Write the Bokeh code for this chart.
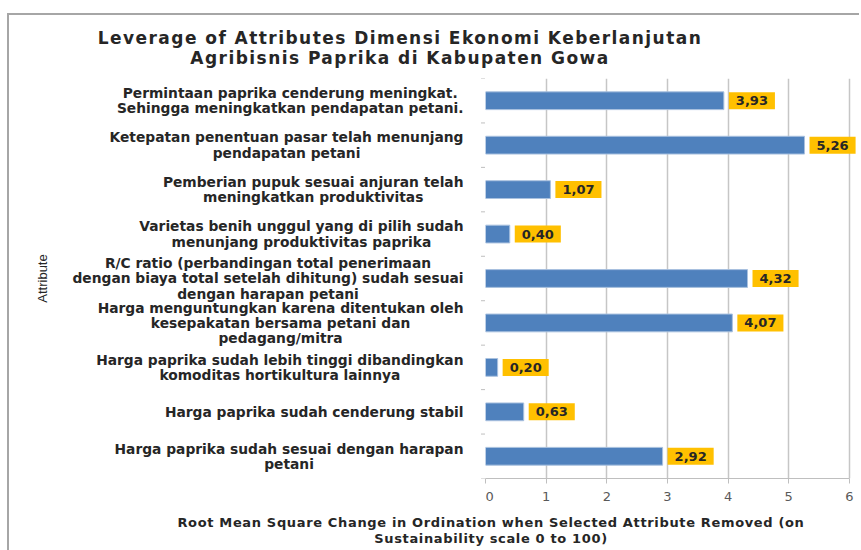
from bokeh.plotting import figure
from bokeh.models import FactorRange, Range1d, ColumnDataSource, Div, FixedTicker
from bokeh.layouts import column, row
from bokeh.embed import file_html
from bokeh.resources import INLINE
from bokeh.core.properties import value
import math

title_lines = ["Leverage of Attributes Dimensi Ekonomi Keberlanjutan",
               "Agribisnis Paprika di Kabupaten Gowa"]

attributes = [
    "Permintaan paprika cenderung meningkat.\nSehingga meningkatkan pendapatan petani.",
    "Ketepatan penentuan pasar telah menunjang\npendapatan petani",
    "Pemberian pupuk sesuai anjuran telah\nmeningkatkan produktivitas",
    "Varietas benih unggul yang di pilih sudah\nmenunjang produktivitas paprika",
    "R/C ratio (perbandingan total penerimaan\ndengan biaya total setelah dihitung) sudah sesuai\ndengan harapan petani",
    "Harga menguntungkan karena ditentukan oleh\nkesepakatan bersama petani dan\npedagang/mitra",
    "Harga paprika sudah lebih tinggi dibandingkan\nkomoditas hortikultura lainnya",
    "Harga paprika sudah cenderung stabil",
    "Harga paprika sudah sesuai dengan harapan\npetani",
]
leverage = [3.93, 5.26, 1.07, 0.40, 4.32, 4.07, 0.20, 0.63, 2.92]
x_ticks = [0, 1, 2, 3, 4, 5, 6]
x_title_lines = ["Root Mean Square Change in Ordination when Selected Attribute Removed (on",
                 "Sustainability scale 0 to 100)"]
y_title = "Attribute"

value_labels = [f"{v:.2f}".replace(".", ",") for v in leverage]
src = ColumnDataSource(dict(attr=attributes, lev=leverage, lab=value_labels))

FONT = "DejaVu Sans"
DARK = "#262626"
GRAY = "#bfbfbf"

yr = FactorRange(factors=list(reversed(attributes)), range_padding=0)

# ---- main bar chart ----
p = figure(width=374, height=438, y_range=yr, x_range=Range1d(0, 6.15),
           y_axis_location=None,
           output_backend="svg", toolbar_location=None,
           min_border_left=0, min_border_right=1, min_border_top=8, min_border_bottom=30)
p.outline_line_color = None
p.background_fill_color = "white"
p.border_fill_color = "white"

p.hbar(y="attr", right="lev", left=0, height=0.4, source=src,
       fill_color="#4F81BD", line_color="#a9c1df", line_width=1)

p.text(x="lev", y="attr", text="lab", source=src, x_offset=5,
       text_align="left", text_baseline="middle",
       text_font=value(FONT), text_font_style="bold", text_font_size="13px",
       text_color=DARK, background_fill_color="#FFC000",
       padding=dict(left=7, right=7, top=4, bottom=4))

p.xgrid.ticker = FixedTicker(ticks=x_ticks)
p.xgrid.grid_line_color = "#c6c6c6"
p.xgrid.grid_line_width = 1.5
p.ygrid.visible = False

xa = p.xaxis[0]
xa.ticker = FixedTicker(ticks=x_ticks)
xa.bounds = (0, 6)
xa.axis_line_color = GRAY
xa.major_tick_line_color = GRAY
xa.major_tick_out = 5
xa.major_tick_in = 0
xa.minor_tick_line_color = None
xa.major_label_standoff = 8
xa.major_label_text_font = FONT
xa.major_label_text_font_size = "13px"
xa.major_label_text_color = "#595959"

# ---- category labels panel ----
lp = figure(width=476, height=438, y_range=yr, x_range=Range1d(0, 1),
            x_axis_location=None, y_axis_location=None,
            output_backend="svg", toolbar_location=None,
            min_border_left=0, min_border_right=0, min_border_top=8, min_border_bottom=30)
lp.outline_line_color = None
lp.grid.visible = False
lp.background_fill_color = "white"
lp.border_fill_color = "white"

lp.text(x=1, y="attr", text="attr", source=src, x_offset=-22,
        anchor="center_right", text_align="center",
        text_font=value(FONT), text_font_style="bold", text_font_size="13.8px",
        text_color=DARK, text_line_height=0.96)

# small category separator ticks on the y axis
n = len(attributes)
lp.scatter(x=[1] * (n + 1), y=list(range(n + 1)), marker="dash", size=9,
           line_color=GRAY, line_width=1)

lp.text(x=[0], y=[n / 2], text=[y_title], angle=math.pi / 2, x_offset=33,
        text_align="center", text_baseline="middle",
        text_font=value("Liberation Sans"), text_font_size="13px", text_color=DARK)

title_div = Div(
    text=('<div style="width:782px;text-align:center;font-family:\'DejaVu Sans\';'
          'font-weight:bold;font-size:17px;letter-spacing:1.45px;line-height:20px;'
          'color:#262626;padding-top:13px">'
          + "<br>".join(title_lines) + "</div>"),
    width=850, height=55, margin=0)

xlabel_div = Div(
    text=('<div style="margin-left:132px;width:700px;text-align:center;font-family:\'DejaVu Sans\';'
          'font-weight:bold;font-size:13px;letter-spacing:0.65px;line-height:16px;'
          'color:#262626;padding-top:7px">'
          + "<br>".join(x_title_lines) + "</div>"),
    width=850, height=42, margin=0)

p.margin = 0
lp.margin = 0
layout = column(title_div, row(lp, p, spacing=0, margin=0), xlabel_div, spacing=0, margin=0,
                styles={"margin-left": "7px", "margin-top": "13px",
                        "border-left": "2px solid #a6a6a6", "border-top": "2px solid #a6a6a6",
                        "background-color": "white"})

open("out.html", "w").write(file_html(layout, INLINE))
